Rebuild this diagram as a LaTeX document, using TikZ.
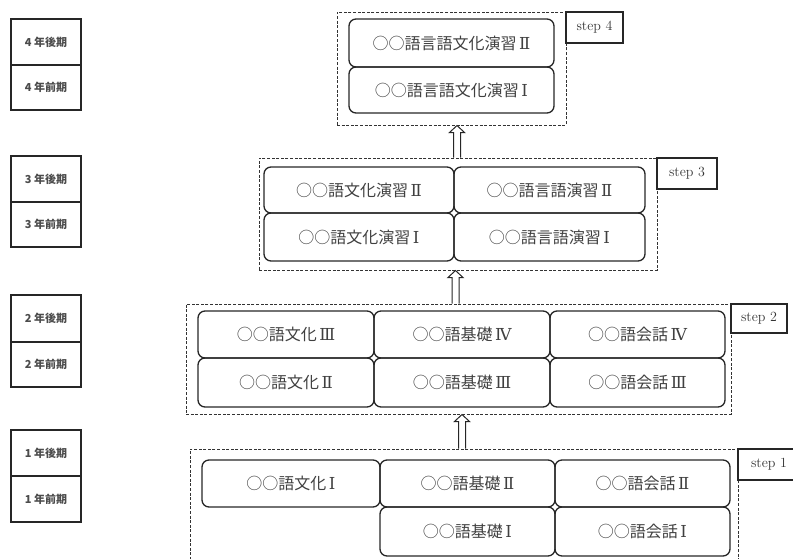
\documentclass[tikz,border=0pt]{standalone}
\usepackage{fontspec}
\newfontfamily\jp{Noto Sans CJK JP}
\newfontfamily\rn{DejaVu Serif}
\newcommand\rmn[1]{\hspace{2.5pt}{\rn\fontsize{16.5}{18}\selectfont #1}\hspace{2.5pt}}
\usetikzlibrary{arrows.meta,calc}
\tikzset{
  rbox/.style={draw=black!85, line width=1.3pt, rounded corners=7pt, inner sep=0pt,
    font=\jp\fontsize{16}{18}\selectfont, text=black!75},
  yrbox/.style={draw=black!85, line width=1.3pt, inner sep=0pt, minimum width=70pt,
    font=\jp\bfseries\fontsize{11}{13}\selectfont, text=black!70},
  stepframe/.style={draw=black!80, line width=1pt, dash pattern=on 3pt off 1.6pt, inner sep=0pt},
  steplabel/.style={draw=black!85, line width=1.1pt, inner sep=0pt,
    font=\fontsize{14}{16}\selectfont, text=black!80},
  hollow/.style={draw=black!85, line width=1pt, fill=white, line join=miter},
}
% hollow upward arrow from anchor #1 (bottom) up to the height of anchor #2
\newcommand\hollowarrow[2]{%
  \draw[hollow] let \p1=(#1), \p2=(#2) in
    (\x1-3.5pt,\y1) -- (\x1-3.5pt,\y2-7pt) -- (\x1-7.5pt,\y2-7pt) -- (\x1,\y2)
    -- (\x1+7.5pt,\y2-7pt) -- (\x1+3.5pt,\y2-7pt) -- (\x1+3.5pt,\y1);}
\begin{document}
\begin{tikzpicture}[x=1pt,y=-1pt]
\useasboundingbox (0,0) rectangle (793,558);
\clip (0,0) rectangle (793,558);

% year labels
\node[yrbox, minimum height=46pt] (y4b) at (46,42) {4 年後期};
\node[yrbox, minimum height=45pt] (y4a) at (46,87.5) {4 年前期};
\node[yrbox, minimum height=46pt] (y3b) at (46,179) {3 年後期};
\node[yrbox, minimum height=45pt] (y3a) at (46,224.5) {3 年前期};
\node[yrbox, minimum height=47pt] (y2b) at (46,318.5) {2 年後期};
\node[yrbox, minimum height=45pt] (y2a) at (46,364.5) {2 年前期};
\node[yrbox, minimum height=46pt] (y1b) at (46,453) {1 年後期};
\node[yrbox, minimum height=46pt] (y1a) at (46,499) {1 年前期};

% step frames
\node[stepframe, minimum width=229pt, minimum height=113pt] (s4) at (451.5,68.5) {};
\node[stepframe, minimum width=398pt, minimum height=112pt] (s3) at (458,214) {};
\node[stepframe, minimum width=545pt, minimum height=110pt] (s2) at (458.5,359) {};
\node[stepframe, minimum width=548pt, minimum height=130pt] (s1) at (464,514) {};

% step labels
\node[steplabel, minimum width=57pt, minimum height=31pt] (l4) at (594.5,27.5) {step 4};
\node[steplabel, minimum width=60pt, minimum height=31pt] (l3) at (687,173.5) {step 3};
\node[steplabel, minimum width=56pt, minimum height=29pt] (l2) at (759,318.5) {step 2};
\node[steplabel, minimum width=62pt, minimum height=31pt] (l1) at (769,464.5) {step 1};

% step 4
\node[rbox, minimum width=205pt, minimum height=48pt] (c4b) at (451.5,43) {○○語言語文化演習\rmn{Ⅱ}};
\node[rbox, minimum width=205pt, minimum height=46pt] (c4a) at (451.5,90) {○○語言語文化演習\rmn{Ⅰ}};

% step 3
\node[rbox, minimum width=190pt, minimum height=46pt] (c3lb) at (359,190) {○○語文化演習\rmn{Ⅱ}};
\node[rbox, minimum width=191pt, minimum height=46pt] (c3rb) at (549.5,190) {○○語言語演習\rmn{Ⅱ}};
\node[rbox, minimum width=190pt, minimum height=48pt] (c3la) at (359,237) {○○語文化演習\rmn{Ⅰ}};
\node[rbox, minimum width=191pt, minimum height=48pt] (c3ra) at (549.5,237) {○○語言語演習\rmn{Ⅰ}};

% step 2
\node[rbox, minimum width=176pt, minimum height=47pt] (c2ab) at (286,334.5) {○○語文化\rmn{Ⅲ}};
\node[rbox, minimum width=176pt, minimum height=47pt] (c2bb) at (462,334.5) {○○語基礎\rmn{Ⅳ}};
\node[rbox, minimum width=175pt, minimum height=47pt] (c2cb) at (637.5,334.5) {○○語会話\rmn{Ⅳ}};
\node[rbox, minimum width=176pt, minimum height=49pt] (c2aa) at (286,382.5) {○○語文化\rmn{Ⅱ}};
\node[rbox, minimum width=176pt, minimum height=49pt] (c2ba) at (462,382.5) {○○語基礎\rmn{Ⅲ}};
\node[rbox, minimum width=175pt, minimum height=49pt] (c2ca) at (637.5,382.5) {○○語会話\rmn{Ⅲ}};

% step 1
\node[rbox, minimum width=178pt, minimum height=47pt] (c1ab) at (291,483.5) {○○語文化\rmn{Ⅰ}};
\node[rbox, minimum width=175pt, minimum height=47pt] (c1bb) at (467.5,483.5) {○○語基礎\rmn{Ⅱ}};
\node[rbox, minimum width=175pt, minimum height=47pt] (c1cb) at (642.5,483.5) {○○語会話\rmn{Ⅱ}};
\node[rbox, minimum width=175pt, minimum height=49pt] (c1ba) at (467.5,531.5) {○○語基礎\rmn{Ⅰ}};
\node[rbox, minimum width=175pt, minimum height=49pt] (c1ca) at (642.5,531.5) {○○語会話\rmn{Ⅰ}};

% arrows
\coordinate (a4) at ([xshift=-1pt]s3.north);
\coordinate (a3) at ([xshift=-3pt]s2.north);
\coordinate (a2) at ([xshift=-2pt]s1.north);
\hollowarrow{a4}{s4.south}
\hollowarrow{a3}{s3.south}
\hollowarrow{a2}{s2.south}
\end{tikzpicture}
\end{document}
